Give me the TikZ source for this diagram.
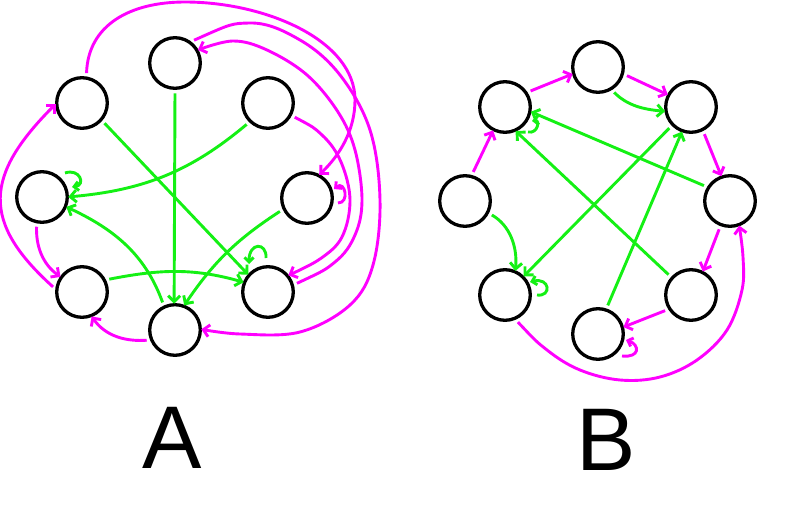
\documentclass[tikz,border=0pt]{standalone}
\usepackage{fontspec}
\setmainfont{Liberation Sans}
\usetikzlibrary{arrows.meta}
\definecolor{mag}{RGB}{255,0,255}
\definecolor{grn}{RGB}{20,240,20}
\begin{document}
\begin{tikzpicture}[x=1pt,y=1pt,
  vert/.style={circle,draw=black,line width=3.3pt,minimum size=50.6pt,inner sep=0pt,outer sep=0pt},
  lnk/.style={line width=2.9pt,-{Straight Barb[length=6pt,width=12pt]},shorten <=5pt,shorten >=1pt},
  medge/.style={lnk,draw=mag},
  gedge/.style={lnk,draw=grn},
  lp/.style={line width=2.9pt,-{Straight Barb[length=4.5pt,width=9pt]}},
  mloop/.style={lp,draw=mag},
  gloop/.style={lp,draw=grn},
  lbl/.style={font=\fontsize{89}{89}\selectfont,anchor=base,inner sep=0pt}
]
\path[use as bounding box,fill=white] (0,0) rectangle (800,-508);

% graph A
\node[vert] (at)  at (175,-63)  {};
\node[vert] (aul) at (82,-103)  {};
\node[vert] (aur) at (268,-103) {};
\node[vert] (aml) at (42,-197)  {};
\node[vert] (amr) at (307,-198) {};
\node[vert] (all) at (82,-292)  {};
\node[vert] (alr) at (268,-292) {};
\node[vert] (ab)  at (175,-330) {};

% graph B
\node[vert] (bt)  at (598,-67)  {};
\node[vert] (bul) at (505,-107) {};
\node[vert] (bur) at (691,-107) {};
\node[vert] (bl)  at (465,-201) {};
\node[vert] (br)  at (730,-201) {};
\node[vert] (bll) at (505,-295) {};
\node[vert] (blr) at (691,-295) {};
\node[vert] (bb)  at (598,-334) {};

% ---------- A green
\draw[gedge] (at.-90) -- (ab.92);
\draw[gedge] (aul.-41) -- (alr.139);
\draw[gedge] (aur.-134) to[out=-140,in=5] (aml.0);
\draw[gedge] (ab.115) to[out=110,in=-25] (aml.-22);
\draw[gedge] (amr.-155) to[out=-147,in=56] (ab.70);
\draw[gedge] (all.28) to[out=11,in=164] (alr.158);
\draw[gloop] ([shift={(23,24)}]aml.center) .. controls (80,-168) and (86,-185) .. ([shift={(30,10)}]aml.center);
\draw[gloop] ([shift={(-2,34)}]alr.center) .. controls (267,-242) and (249,-242) .. ([shift={(-19,28)}]alr.center);

% ---------- A magenta
\draw[medge] (all.176) to[out=138,in=-135,looseness=1.4] (aul.180);
\draw[medge] (aml.-102) to[out=-92,in=144] (all.145);
\draw[medge] (ab.-157) to[out=184,in=-55] (all.-69);
\draw[medge] (aul.80) .. controls (88,-25) and (130,-2) .. (185,-2)
   .. controls (265,-2) and (355,-40) .. (355,-100)
   .. controls (355,-130) and (340,-155) .. (amr.63);
\draw[medge] plot[smooth,tension=0.6] coordinates {(at.55) (250,-23) (300,-40) (340,-75) (370,-130) (380,-200) (373,-265) (350,-305) (300,-332) (240,-334) (ab.2)};
\draw[medge] plot[smooth,tension=0.6] coordinates {(alr.15) (335,-262) (355,-235) (362,-200) (355,-150) (338,-112) (307,-75) (267,-50) (233,-41) (at.30)};
\draw[medge] plot[smooth,tension=0.6] coordinates {(aur.-28) (322,-135) (341,-162) (350,-200) (342,-237) (320,-259) (alr.40)};
\draw[mloop] ([shift={(31,-5)}]amr.center) .. controls (350,-203) and (345,-180) .. ([shift={(27,9)}]amr.center);

% ---------- B magenta
\draw[medge] (bl.76) -- (bul.-117);
\draw[medge] (bul.34) -- (bt.195);
\draw[medge] (bt.-15) -- (bur.152);
\draw[medge] (bur.-63) -- (br.109);
\draw[medge] (br.-111) -- (blr.63);
\draw[medge] (blr.-147) -- (bb.15);
\draw[medge] plot[smooth,tension=0.6] coordinates {(bll.-68) (547,-350) (580,-370) (620,-380) (660,-377) (697,-360) (727,-330) (742,-290) (743,-257) (br.-69)};
\draw[mloop] ([shift={(24,-22)}]bb.center) .. controls (640,-358) and (640,-345) .. ([shift={(28,-6)}]bb.center);

% ---------- B green
\draw[gedge] (bt.-60) to[out=-45,in=175] (bur.190);
\draw[gedge] (bur.-136) -- (bll.45);
\draw[gedge] (bb.72) -- (bur.-110);
\draw[gedge] (br.148) -- (bul.-10);
\draw[gedge] (blr.138) -- (bul.-67);
\draw[gedge] (bl.-27) to[out=-30,in=85] (bll.66);
\draw[gloop] ([shift={(23,-25)}]bul.center) .. controls (538,-134) and (540,-120) .. ([shift={(27,-14)}]bul.center);
\draw[gloop] ([shift={(32,0)}]bll.center) .. controls (552,-297) and (550,-277) .. ([shift={(25,13)}]bll.center);

% labels
\node[lbl] (labA) at (172,-468) {A};
\node[lbl] (labB) at (606,-470) {B};
\end{tikzpicture}
\end{document}
